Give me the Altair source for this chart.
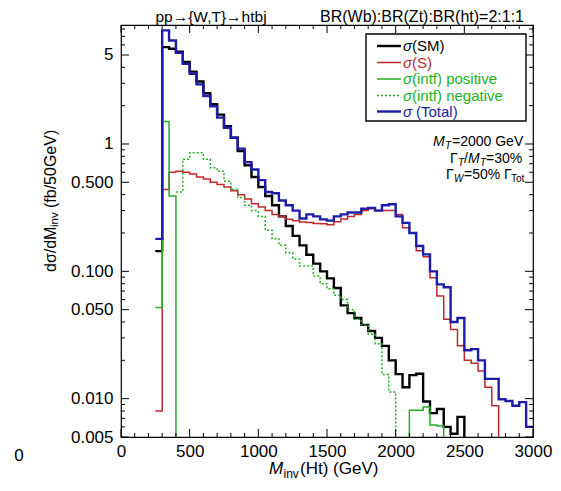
import altair as alt
import pandas as pd

# ---------------- data (values per 50 GeV bin, lower edges 250 ... 2950) ----------------
BIN_LO = list(range(250, 3000, 50))
BIN_W = 50
FLOOR = 1e-3  # empty bin (drawn below the axis and clipped)

total = [0.18, 7.8, 6.5, 5.2, 4.27,
         3.56, 2.94, 2.38, 1.98, 1.61, 1.34, 1.12, 0.92, 0.72, 0.63,
         0.52, 0.42, 0.41, 0.36, 0.33, 0.30, 0.26, 0.28, 0.27, 0.256,
         0.25, 0.27, 0.28, 0.29, 0.29, 0.31, 0.315, 0.30, 0.33, 0.336,
         0.27, 0.24, 0.20, 0.158, 0.136, 0.10, 0.079, 0.075, 0.040, 0.043,
         0.024, 0.0245, 0.020, 0.0143, 0.0143, 0.0099, 0.0096, 0.0088, 0.0094, 0.006]

sm = [0.144, 5.76, 5.6, 5.3, 4.4,
      3.7, 3.1, 2.5, 2.05, 1.7, 1.38, 1.12, 0.88, 0.68, 0.55,
      0.46, 0.39, 0.33, 0.27, 0.227, 0.19, 0.16, 0.135, 0.115, 0.10,
      0.088, 0.074, 0.054, 0.047, 0.043, 0.038, 0.034, 0.030, 0.026, 0.020,
      0.0156, 0.0123, 0.0153, 0.0157, 0.0095, 0.0077, 0.0083, 0.006, 0.0053, 0.0072,
      None, None, None, None, None, None, None, None, None, None]

sig = [0.008, 0.44, 0.60, 0.61, 0.60,
       0.58, 0.55, 0.53, 0.50, 0.48, 0.46, 0.43, 0.40, 0.37, 0.34,
       0.32, 0.30, 0.28, 0.27, 0.256, 0.25, 0.244, 0.242, 0.238, 0.236,
       0.232, 0.245, 0.258, 0.27, 0.28, 0.30, 0.31, 0.30, 0.30, 0.30,
       0.28, 0.22, 0.20, 0.145, 0.13, 0.089, 0.064, 0.042, 0.035, 0.026,
       0.020, 0.019, 0.0165, 0.0123, 0.0088, None, None, None, None, None]

intf_pos = ([0.052, 1.5, 0.39] + [None] * 34 +
            [0.0081, 0.0081, 0.0086, 0.0062, 0.0061] + [None] * 13)

intf_neg = ([None, None, None] +
            [0.42, 0.76, 0.855, 0.855, 0.76, 0.65, 0.61, 0.51, 0.44, 0.38, 0.33, 0.30,
             0.27, 0.21, 0.18, 0.16, 0.14, 0.125, 0.11, 0.11, 0.092, 0.08,
             0.073, 0.065, 0.06, 0.05, 0.042, 0.038, 0.032, 0.027, 0.0155, 0.0113] +
            [None] * 20)

X_LABELS = [0, 500, 1000, 1500, 2000, 2500, 3000]
X_MINOR = [v for v in range(0, 3001, 100) if v % 500]
Y_LABELS = [0.005, 0.01, 0.05, 0.1, 0.5, 1, 5]
Y_MINOR = [0.006, 0.007, 0.008, 0.009, 0.02, 0.03, 0.04, 0.06, 0.07, 0.08, 0.09,
           0.2, 0.3, 0.4, 0.6, 0.7, 0.8, 0.9, 2, 3, 4, 6, 7, 8]

# ---------------- styling ----------------
FONT = "Liberation Sans"
C_SM, C_S, C_INTF, C_TOT = "#000000", "#c0282a", "#22b022", "#1c1ca8"
W, H = 412, 412
X0, Y0 = 121, 25      # page position of the plot origin
DUMMY = pd.DataFrame({"a": [0]})

xs = alt.Scale(domain=[0, 3000], nice=False, zero=False)
ys = alt.Scale(type="log", domain=[0.005, 8.6], nice=False)

x_axis = alt.Axis(values=X_LABELS, ticks=False, domain=False, grid=False, labelFont=FONT,
                  labelFontSize=17, labelColor="black", labelPadding=6, labelFlush=False,
                  labelOverlap=False, format="d")
y_axis = alt.Axis(values=Y_LABELS, ticks=False, domain=False, grid=False, labelFont=FONT,
                  labelFontSize=17, labelColor="black", labelPadding=8, labelFlush=False,
                  labelOverlap=False,
                  labelExpr="datum.value >= 1 ? format(datum.value, 'd') : format(datum.value, '.3f')")


def step_points(vals):
    rows, seg, k, i, n, started = [], 0, 0, 0, len(vals), False
    while i < n:
        if vals[i] is None:
            i += 1
            continue
        j = i
        while j + 1 < n and vals[j + 1] is not None:
            j += 1
        if started:
            rows.append(dict(x=BIN_LO[i], y=FLOOR, seg=seg, k=k)); k += 1
        for m in range(i, j + 1):
            rows.append(dict(x=BIN_LO[m], y=vals[m], seg=seg, k=k)); k += 1
        rows.append(dict(x=BIN_LO[j] + BIN_W, y=vals[j] if j == n - 1 else FLOOR, seg=seg, k=k)); k += 1
        started = True
        seg += 1
        i = j + 1
    return pd.DataFrame(rows)


def line_layer(vals, color, width, dash=None):
    mk = dict(interpolate="step-after", clip=True, color=color, strokeWidth=width)
    if dash:
        mk["strokeDash"] = dash
    return alt.Chart(step_points(vals)).mark_line(**mk).encode(
        x=alt.X("x:Q", scale=xs, axis=x_axis, title=None),
        y=alt.Y("y:Q", scale=ys, axis=y_axis, title=None),
        detail="seg:N",
        order="k:Q",
    )


def xtick_layers(vals, length):
    base = alt.Chart(pd.DataFrame({"x": vals}))
    x = alt.X("x:Q", scale=xs, axis=x_axis, title=None)
    return [
        base.mark_rule(color="black", strokeWidth=1).encode(x=x, y=alt.value(H), y2=alt.value(H - length)),
        base.mark_rule(color="black", strokeWidth=1).encode(x=x, y=alt.value(0), y2=alt.value(length)),
    ]


def ytick_layers(vals, length):
    base = alt.Chart(pd.DataFrame({"y": vals}))
    y = alt.Y("y:Q", scale=ys, axis=y_axis, title=None)
    return [
        base.mark_rule(color="black", strokeWidth=1).encode(y=y, x=alt.value(0), x2=alt.value(length)),
        base.mark_rule(color="black", strokeWidth=1).encode(y=y, x=alt.value(W), x2=alt.value(W - length)),
    ]


def label(text, xa, ya, size, color="black", italic=False, align="left", baseline="middle", angle=0):
    kw = dict(text=text, font=FONT, fontSize=size, color=color, align=align, baseline=baseline)
    if italic:
        kw["fontStyle"] = "italic"
    if angle:
        kw["angle"] = angle
    return alt.Chart(DUMMY).mark_text(**kw).encode(x=alt.value(xa - X0), y=alt.value(ya - Y0))


def hline(xa1, xa2, ya, color, width, dash=None):
    kw = dict(color=color, strokeWidth=width)
    if dash:
        kw["strokeDash"] = dash
    return alt.Chart(DUMMY).mark_rule(**kw).encode(
        x=alt.value(xa1 - X0), x2=alt.value(xa2 - X0), y=alt.value(ya - Y0))


layers = [
    line_layer(sm, C_SM, 2.4),
    line_layer(sig, C_S, 1.5),
    line_layer(intf_pos, C_INTF, 1.5),
    line_layer(intf_neg, C_INTF, 1.5, dash=[2, 2]),
    line_layer(total, C_TOT, 2.4),
]
layers += xtick_layers(X_LABELS, 8) + xtick_layers(X_MINOR, 4)
layers += ytick_layers(Y_LABELS, 8) + ytick_layers(Y_MINOR, 4)

# legend box
layers.append(alt.Chart(DUMMY).mark_rect(fill="white", stroke="black", strokeWidth=1.4).encode(
    x=alt.value(366 - X0), x2=alt.value(526 - X0), y=alt.value(34 - Y0), y2=alt.value(121 - Y0)))
legend_rows = [
    ("(SM)", 412, C_SM, 2.4, None, 46),
    ("(S)", 412, C_S, 1.5, None, 62.5),
    ("(intf) positive", 412, C_INTF, 1.5, None, 79),
    ("(intf) negative", 412, C_INTF, 1.5, [2, 2], 95.5),
    ("(Total)", 416, C_TOT, 2.4, None, 111.5),
]
for txt, tx, col, wdt, dsh, yy in legend_rows:
    layers.append(hline(377, 401, yy, col, wdt, dsh))
    layers.append(label("σ", 403, yy, 15, col, italic=True))
    layers.append(label(txt, tx, yy, 15, col))

# parameter annotations
layers += [
    label("M", 433, 142, 14, italic=True),
    label("T", 445, 146, 10, italic=True),
    label("=2000 GeV", 452, 142, 14),
    label("Γ", 450, 158.5, 14),
    label("T", 458, 162.5, 10, italic=True),
    label("/", 464, 158.5, 14),
    label("M", 468, 158.5, 14, italic=True),
    label("T", 480, 162.5, 10, italic=True),
    label("=30%", 486, 158.5, 14),
    label("Γ", 446, 175, 14),
    label("W", 454, 179, 10, italic=True),
    label("=50% Γ", 464, 175, 14),
    label("Tot", 511, 179, 10),
]

# titles
layers += [
    label("pp→{W,T}→htbj", 211, 21.5, 15.5, align="center", baseline="alphabetic"),
    label("BR(Wb):BR(Zt):BR(ht)=2:1:1", 422, 21.5, 16, align="center", baseline="alphabetic"),
]

# axis titles
layers += [
    label("M", 269, 469, 17, italic=True),
    label("inv", 283.5, 474, 12),
    label("(Ht) (GeV)", 300, 469, 17),
    label("dσ/dM", 50.5, 272, 16, angle=270),
    label("inv", 55, 227, 11.5, angle=270),
    label("(fb/50GeV)", 50.5, 208, 16, angle=270),
    label("0", 19, 456, 17, align="center"),
]

chart = alt.layer(*layers).properties(
    width=W, height=H,
    padding={"left": X0 - 8, "top": Y0 - 8, "right": 20, "bottom": 45},
    autosize=alt.AutoSizeParams(type="none"),
).configure_view(stroke="black", strokeWidth=1.2)

chart.save("out.html", embed_options={"renderer": "svg", "actions": False})
